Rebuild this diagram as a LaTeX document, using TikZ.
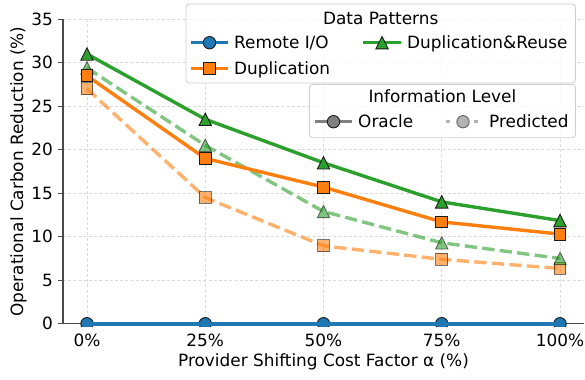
\documentclass[tikz,border=0pt]{standalone}
\usepackage{fontspec}
\setmainfont{DejaVu Sans}
\definecolor{cblue}{HTML}{1F77B4}
\definecolor{corange}{HTML}{FF7F0E}
\definecolor{cgreen}{HTML}{2CA02C}
\definecolor{cgray}{HTML}{808080}
\definecolor{gridgray}{HTML}{DADADA}
\definecolor{spinegray}{HTML}{4A4A4A}
\definecolor{legedge}{HTML}{D0D0D0}
\definecolor{mkedge}{HTML}{1A1A1A}
\tikzset{
  gridline/.style={draw=gridgray, line width=0.8bp, dash pattern=on 3bp off 2.2bp},
  spine/.style={draw=spinegray, line width=1.2bp},
  oracle/.style={line width=3.4bp, line join=round},
  predicted/.style={line width=3.4bp, dash pattern=on 12.3bp off 5.3bp, draw opacity=0.6},
  mk/.style={draw=mkedge, line width=0.9bp, inner sep=0pt},
  circmk/.style={mk, circle, minimum size=12.4bp},
  sqmk/.style={mk, rectangle, minimum size=11.8bp},
  faded/.style={fill opacity=0.6, draw opacity=0.6},
  tri/.pic={\path[pic actions] (0,6.2bp) -- (-6.2bp,-6.2bp) -- (6.2bp,-6.2bp) -- cycle;},
  legbox/.style={fill=white, fill opacity=0.8, draw=legedge, line width=0.9bp, rounded corners=3.5bp},
  lbl/.style={inner sep=0pt, anchor=base west},
  ctr/.style={inner sep=0pt, anchor=base},
}
\begin{document}
\begin{tikzpicture}[x=1bp, y=-1bp, font=\fontsize{16.9bp}{20bp}\selectfont]
\useasboundingbox (0,0) rectangle (585,379);

% ---------- plotting area: x = factor index, y = reduction in %
\begin{scope}[x=118.25bp, y=8.7bp, shift={(87bp,-323.7bp)}]
  % grid
  \foreach \i in {0,...,4} \draw[gridline] (\i,0) -- (\i,35);
  \foreach \v in {0,5,...,35} \draw[gridline] (-0.203,\v) -- (4.203,\v);

  % axes, y ticks and labels
  \draw[spine] (-0.203,35) -- (-0.203,0) -- (4.203,0);
  \foreach \v in {0,5,...,35} {
    \draw[spine] (-0.203,\v) -- ++(-5bp,0);
    \node[inner sep=0pt, anchor=base east] (yt\v) at ([yshift=-6.1bp]-0.287,\v) {\v};
  }
  \foreach \t [count=\i from 0] in {0\%,25\%,50\%,75\%,100\%}
    \node[ctr] (xt\i) at ([yshift=-22.3bp]\i,0) {\t};

  % data points
  \foreach \v [count=\i from 0] in {31,23.5,18.5,14,11.85}  \coordinate (dr\i)  at (\i,\v);
  \foreach \v [count=\i from 0] in {28.5,19,15.7,11.7,10.3} \coordinate (du\i)  at (\i,\v);
  \foreach \v [count=\i from 0] in {29.4,20.5,12.9,9.3,7.5} \coordinate (drp\i) at (\i,\v);
  \foreach \v [count=\i from 0] in {27,14.5,8.95,7.4,6.35}  \coordinate (dup\i) at (\i,\v);
  \foreach \i in {0,...,4} \coordinate (rio\i) at (\i,0);

  \begin{scope}
    \clip (-0.203,-0.27) rectangle (4.203,35);
    % predicted series
    \draw[predicted, corange] (dup0) -- (dup1) -- (dup2) -- (dup3) -- (dup4);
    \foreach \i in {0,...,4} \node[sqmk, faded, fill=corange] (mdup\i) at (dup\i) {};
    \draw[predicted, cgreen] (drp0) -- (drp1) -- (drp2) -- (drp3) -- (drp4);
    \foreach \i in {0,...,4} \pic[draw=mkedge, line width=0.9bp, faded, fill=cgreen] at (drp\i) {tri};
    % oracle series
    \foreach \i in {0,...,4} \node[circmk, fill=cblue] (mrio\i) at (rio\i) {};
    \draw[oracle, cblue, line width=4.4bp] (rio0) -- (rio1) -- (rio2) -- (rio3) -- (rio4);
    \draw[oracle, corange] (du0) -- (du1) -- (du2) -- (du3) -- (du4);
    \foreach \i in {0,...,4} \node[sqmk, fill=corange] (mdu\i) at (du\i) {};
    \draw[oracle, cgreen] (dr0) -- (dr1) -- (dr2) -- (dr3) -- (dr4);
    \foreach \i in {0,...,4} \pic[draw=mkedge, line width=0.9bp, fill=cgreen] at (dr\i) {tri};
  \end{scope}
\end{scope}

% ---------- axis titles
\node[ctr] (xlabel) at (323.5,366) {Provider Shifting Cost Factor α (\%)};
\node[ctr, rotate=90] (ylabel) at (23,171.5) {Operational Carbon Reduction (\%)};

% ---------- legend: data patterns
\draw[legbox] (186,4) rectangle (575.5,83);
\node[ctr] (lt1) at (380.7,24.4) {Data Patterns};
\draw[oracle, cblue] (191,42.7) -- (228,42.7);
\node[circmk, fill=cblue] (lgrio) at (209.5,42.7) {};
\node[lbl] (lrio) at (234,48.8) {Remote I/O};
\draw[oracle, cgreen] (363,42.7) -- (401,42.7);
\pic[draw=mkedge, line width=0.9bp, fill=cgreen] at (382,42.7) {tri};
\node[lbl] (ldr) at (407,48.8) {Duplication\&Reuse};
\draw[oracle, corange] (191,68.3) -- (228,68.3);
\node[sqmk, fill=corange] (lgdu) at (209.5,68.3) {};
\node[lbl] (ldu) at (234,74.4) {Duplication};

% ---------- legend: information level
\draw[legbox] (309.3,84.3) rectangle (575.5,137.7);
\node[ctr] (lt2) at (442.4,102.8) {Information Level};
\draw[oracle, cgray] (315,121.7) -- (352,121.7);
\node[circmk, fill=cgray] (lgor) at (333.5,121.7) {};
\node[lbl] (lor) at (358,127.8) {Oracle};
\draw[cgray, line width=3.4bp, draw opacity=0.6, dash pattern=on 4bp off 24bp on 4bp off 10bp] (446,121.7) -- (478,121.7);
\node[circmk, faded, fill=cgray] (lgpr) at (463,121.7) {};
\node[lbl] (lpr) at (489,127.8) {Predicted};
\end{tikzpicture}
\end{document}
